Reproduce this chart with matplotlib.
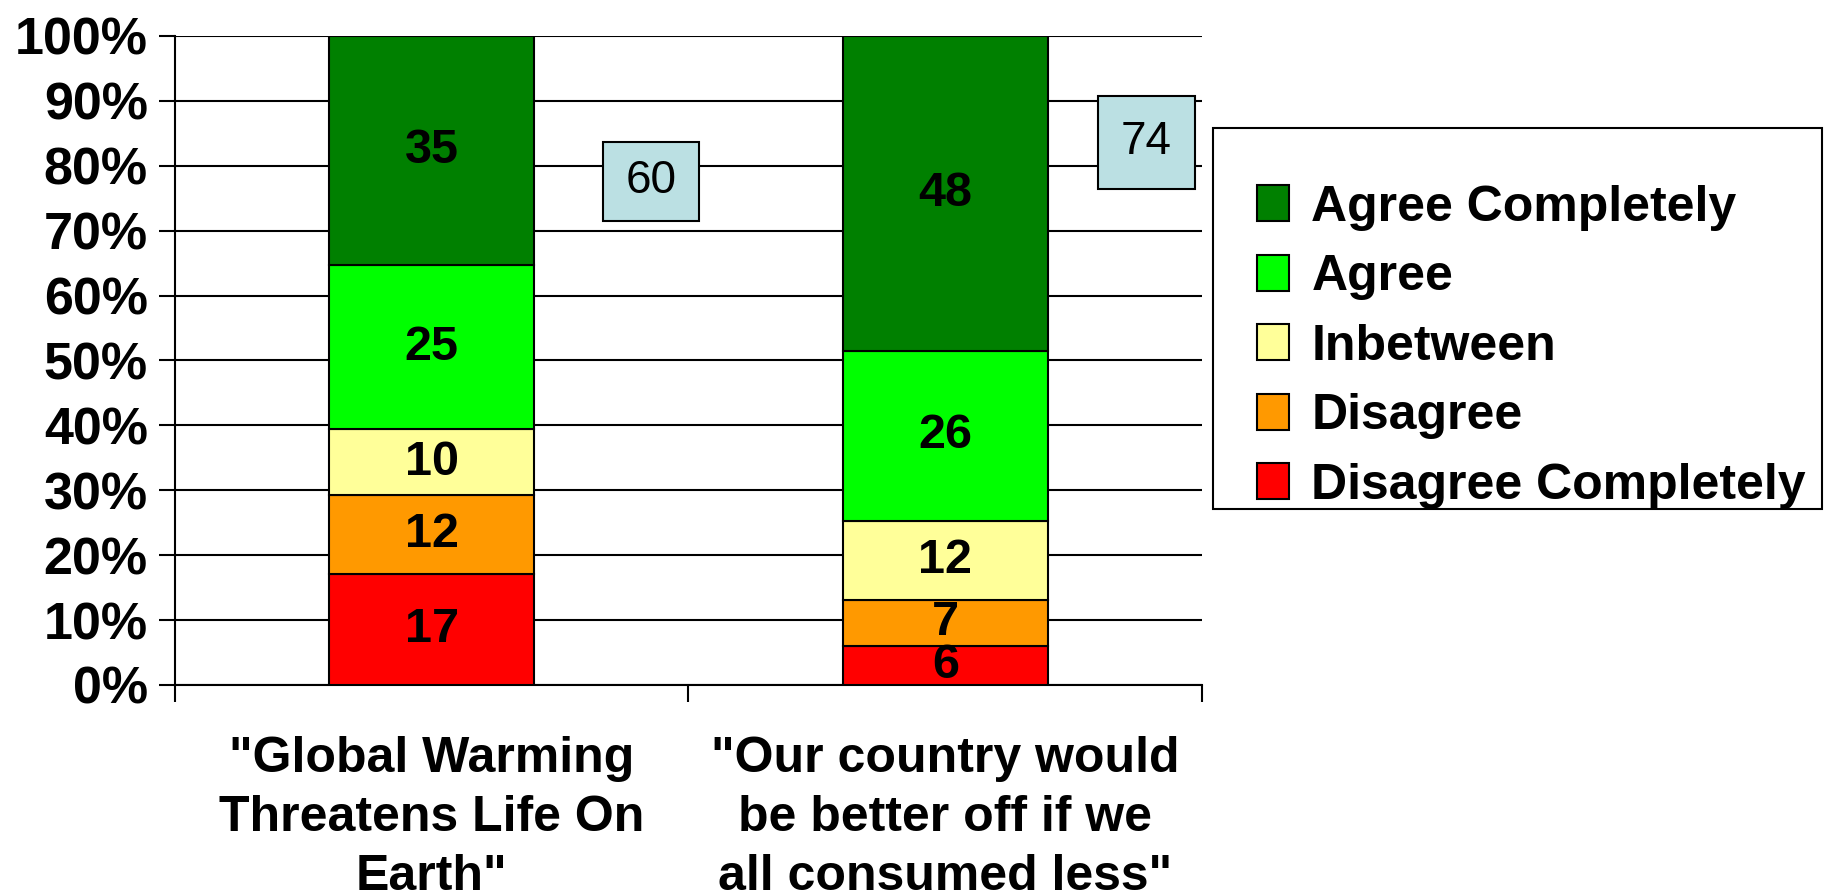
import numpy as np
import matplotlib.pyplot as plt
from matplotlib.patches import Patch, Rectangle

plt.rcParams['font.family'] = ['Liberation Sans', 'DejaVu Sans']

categories = ['"Global Warming\nThreatens Life On\nEarth"',
              '"Our country would\nbe better off if we\nall consumed less"']
series = ['Disagree Completely', 'Disagree', 'Inbetween', 'Agree', 'Agree Completely']
values = {
    'Disagree Completely': [17, 6],
    'Disagree': [12, 7],
    'Inbetween': [10, 12],
    'Agree': [25, 26],
    'Agree Completely': [35, 48],
}
agree_totals = [60, 74]
colors = {
    'Disagree Completely': '#FF0000',
    'Disagree': '#FF9900',
    'Inbetween': '#FFFF99',
    'Agree': '#00FF00',
    'Agree Completely': '#008000',
}

fig = plt.figure(figsize=(18.26, 8.96), dpi=100)
ax = fig.add_axes([0.0958, 0.2355, 0.5625, 0.7245])

x = np.arange(len(categories))
totals = np.sum([values[s] for s in series], axis=0)
bottom = np.zeros(len(categories))
for s in series:
    pct = np.array(values[s]) / totals * 100
    ax.bar(x, pct, 0.4, bottom=bottom, color=colors[s], edgecolor='black',
           linewidth=1.5, zorder=3)
    for xi, b, p, v in zip(x, bottom, pct, values[s]):
        ax.text(xi, b + p / 2, str(v), ha='center', va='center',
                fontsize=35, fontweight='bold', zorder=4)
    bottom += pct

# agreement totals in side boxes (box placement: x offset, y centre, w, h)
box_dx = [0.427, 0.392]
box_y = [77.6, 83.6]
box_w = [0.187, 0.189]
box_h = [12.2, 14.3]
for xi, t, dx, by, bw, bh in zip(x, agree_totals, box_dx, box_y, box_w, box_h):
    cx = xi + dx
    ax.add_patch(Rectangle((cx - bw / 2, by - bh / 2), bw, bh,
                           facecolor='#BBE0E3', edgecolor='black',
                           linewidth=1.5, zorder=5))
    ax.text(cx, by, str(t), ha='center', va='center', fontsize=33, zorder=6)

ax.set_xlim(-0.5, 1.5)
ax.set_ylim(0, 100)
ax.set_yticks(np.arange(0, 101, 10))
ax.set_yticklabels([f'{v}%' for v in range(0, 101, 10)],
                   fontsize=37.5, fontweight='bold')
ax.yaxis.grid(True, color='black', linewidth=1.5, zorder=0)
ax.set_axisbelow(True)
ax.tick_params(axis='y', length=11.5, width=1.5, pad=8)

ax.set_xticks(x)
ax.set_xticklabels(categories, fontsize=36, fontweight='bold', linespacing=1.35)
ax.set_xticks([-0.5, 0.5, 1.5], minor=True)
ax.tick_params(axis='x', which='major', length=0, pad=37)
ax.tick_params(axis='x', which='minor', length=12, width=1.5)

for sp in ['top', 'right']:
    ax.spines[sp].set_visible(False)
for sp in ['left', 'bottom']:
    ax.spines[sp].set_linewidth(1.5)

handles = [Patch(facecolor=colors[s], edgecolor='black', linewidth=1.5)
           for s in reversed(series)]
leg = fig.legend(handles, list(reversed(series)), loc='center left',
                 bbox_to_anchor=(0.664, 0.613), frameon=False,
                 prop={'size': 36, 'weight': 'bold'},
                 handlelength=0.63, handleheight=0.72, handletextpad=0.45,
                 labelspacing=0.47, borderpad=0.4)
# legend frame (Excel puts the entries low inside it)
fig.add_artist(Rectangle((0.6643, 0.4319), 0.3335, 0.4252,
                         transform=fig.transFigure, fill=False,
                         edgecolor='black', linewidth=1.5))

fig.savefig('out.png', dpi=100)
